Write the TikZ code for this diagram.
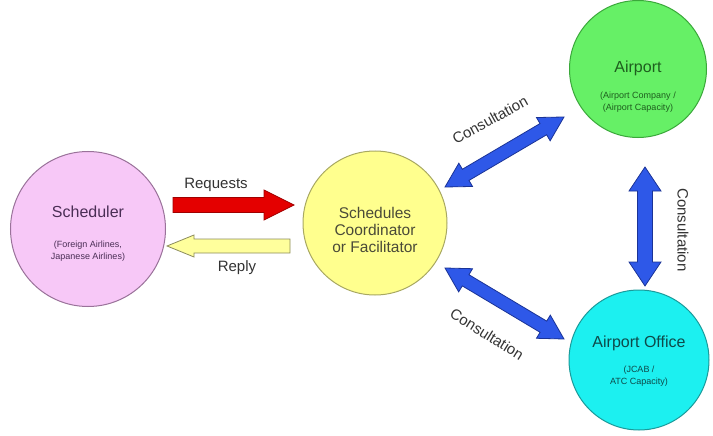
\documentclass[tikz,border=0pt]{standalone}
\usepackage{fontspec}
\setmainfont{Liberation Sans}
\usetikzlibrary{calc}

\definecolor{schedF}{HTML}{F7C8F7}
\definecolor{schedD}{HTML}{9A729A}
\definecolor{schedT}{HTML}{4A2E55}
\definecolor{coordF}{HTML}{FFFF8E}
\definecolor{coordD}{HTML}{A8A862}
\definecolor{coordT}{HTML}{4A4A38}
\definecolor{airF}{HTML}{66F066}
\definecolor{airD}{HTML}{3AA83A}
\definecolor{airT}{HTML}{1E5E1E}
\definecolor{offF}{HTML}{1CF0F0}
\definecolor{offD}{HTML}{1A9A9A}
\definecolor{offT}{HTML}{0E4A4A}
\definecolor{reqF}{HTML}{E40000}
\definecolor{reqD}{HTML}{A00000}
\definecolor{repF}{HTML}{FFFF9C}
\definecolor{repD}{HTML}{8C8C5C}
\definecolor{bluF}{HTML}{2E58E8}
\definecolor{bluD}{HTML}{1A3396}
\definecolor{lblT}{HTML}{333333}

\newcommand\singleArr[6]{%
  \coordinate (hh) at ($(#2)!#5!(#1)$);
  \draw[#6] ($(#1)!#3!90:(#2)$) -- ($(hh)!#3!90:(#2)$) -- ($(hh)!#4!90:(#2)$) -- (#2)
    -- ($(hh)!#4!-90:(#2)$) -- ($(hh)!#3!-90:(#2)$) -- ($(#1)!#3!-90:(#2)$) -- cycle;
}
\newcommand\doubleArr[6]{%
  \coordinate (ha) at ($(#1)!#5!(#2)$);
  \coordinate (hb) at ($(#2)!#5!(#1)$);
  \draw[#6] (#1) -- ($(ha)!#4!90:(#2)$) -- ($(ha)!#3!90:(#2)$) -- ($(hb)!#3!90:(#2)$)
    -- ($(hb)!#4!90:(#2)$) -- (#2) -- ($(hb)!#4!-90:(#2)$) -- ($(hb)!#3!-90:(#2)$)
    -- ($(ha)!#3!-90:(#2)$) -- ($(ha)!#4!-90:(#2)$) -- cycle;
}

\tikzset{
  circ/.style={circle, inner sep=0pt, line width=1pt},
  title/.style={font=\fontsize{16}{17.5}\selectfont, align=center, inner sep=0pt},
  sub/.style={font=\fontsize{9}{12}\selectfont, align=center, inner sep=0pt},
  lbl/.style={font=\fontsize{15}{17}\selectfont, text=lblT, inner sep=0pt},
  reqS/.style={fill=reqF, draw=reqD, line width=0.8pt, line join=miter},
  repS/.style={fill=repF, draw=repD, line width=0.8pt, line join=miter},
  bluS/.style={fill=bluF, draw=bluD, line width=0.8pt, line join=miter},
}

\begin{document}
\begin{tikzpicture}[x=1pt, y=-1pt]
\useasboundingbox[fill=white] (0,0) rectangle (713,436);

% circles
\node[circ, fill=schedF, draw=schedD, minimum size=155pt] (sched) at (88,229) {};
\node[circ, fill=coordF, draw=coordD, minimum size=144pt] (coord) at (375,223) {};
\node[circ, fill=airF, draw=airD, minimum size=137pt] (air) at (638,69) {};
\node[circ, fill=offF, draw=offD, minimum size=140pt] (off) at (639,360) {};

% texts
\node[title, text=schedT] (schedTitle) at (88,212) {Scheduler};
\node[sub, text=schedT] (schedSub) at (88,251) {(Foreign Airlines,\\Japanese Airlines)};
\node[title, text=coordT, font=\fontsize{15.5}{17}\selectfont] (coordTitle) at (375,230) {Schedules\\Coordinator\\or Facilitator};
\node[title, text=airT] (airTitle) at (638,68) {Airport};
\node[sub, text=airT] (airSub) at (638,102) {(Airport Company /\\(Airport Capacity)};
\node[title, text=offT] (offTitle) at (639,343) {Airport Office};
\node[sub, text=offT] (offSub) at (639,376) {(JCAB /\\ATC Capacity)};

% connector end points
\coordinate (rqA) at (173,205);
\coordinate (rqB) at (294,205);
\coordinate (rpA) at (290,246);
\coordinate (rpB) at (167,246);
\coordinate (u1) at (445,187);
\coordinate (u2) at (564,117);
\coordinate (l1) at (445,268);
\coordinate (l2) at (564,339);
\coordinate (v1) at (645,167);
\coordinate (v2) at (645,286);

\singleArr{rqA}{rqB}{7.5pt}{15pt}{30pt}{reqS}
\singleArr{rpA}{rpB}{7pt}{11pt}{27pt}{repS}
\doubleArr{u1}{u2}{6.5pt}{13.5pt}{24pt}{bluS}
\doubleArr{l1}{l2}{6.5pt}{13.5pt}{24pt}{bluS}
\doubleArr{v1}{v2}{7.5pt}{16pt}{24pt}{bluS}

% labels
\node[lbl] (lReq) at (216,185) {Requests};
\node[lbl] (lRep) at (237,268) {Reply};
\node[lbl, rotate=29] (lUp) at (490,120) {Consultation};
\node[lbl, rotate=-32] (lLow) at (487,334) {Consultation};
\node[lbl, rotate=-90] (lVer) at (683,230) {Consultation};
\end{tikzpicture}
\end{document}
